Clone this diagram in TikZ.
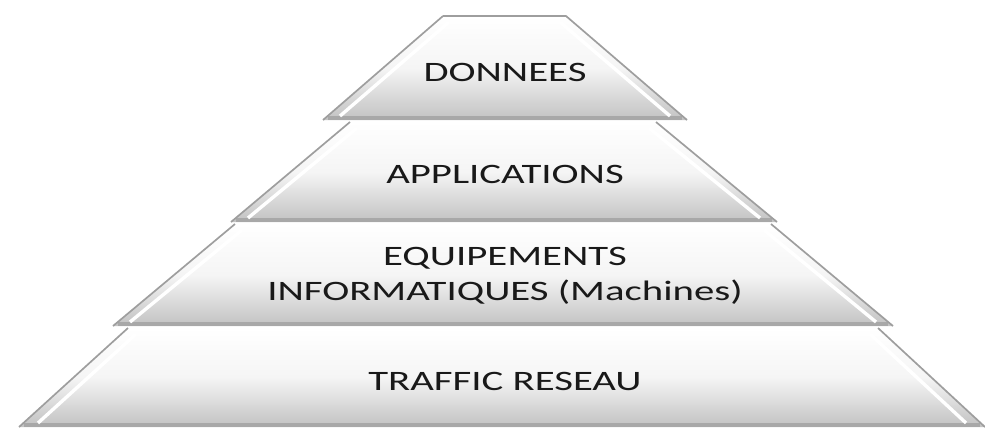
\documentclass[tikz,border=0pt]{standalone}
\usepackage{fontspec}
\setmainfont[FakeStretch=1.45]{Carlito}
\tikzset{
  level/.style={top color=white, bottom color=black!24, middle color=black!4},
  rim/.style={draw=black!38, line width=1.2pt},
  shine/.style={draw=white, line width=2.4pt},
  band/.style={draw=black!34, line width=3pt},
  lbl/.style={align=center, text=black!90, font=\fontsize{20}{25}\selectfont}
}
\begin{document}
\begin{tikzpicture}[x=0.025cm, y=-0.025cm]
            \useasboundingbox (0,0) rectangle (985,428);
            % base level
            \shade[level] (128,328) -- (878,328) -- (985,427) -- (19,427) -- cycle;
            \draw[band] (24,425) -- (980,425);
            \draw[rim] (128,328) -- (19,427) (878,328) -- (985,427);
            \draw[shine] (136,334) -- (38,423) (870,334) -- (966,423);
            % third level
            \shade[level] (235,224) -- (771,224) -- (893,326) -- (113,326) -- cycle;
            \draw[band] (118,324) -- (888,324);
            \draw[rim] (235,224) -- (113,326) (771,224) -- (893,326);
            \draw[shine] (242,230) -- (130,322) (764,230) -- (876,322);
            % second level
            \shade[level] (350,122) -- (656,122) -- (777,222) -- (231,222) -- cycle;
            \draw[band] (236,220) -- (772,220);
            \draw[rim] (350,122) -- (231,222) (656,122) -- (777,222);
            \draw[shine] (357,128) -- (248,218) (649,128) -- (760,218);
            % top level
            \shade[level] (443,16) -- (566,16) -- (687,120) -- (323,120) -- cycle;
            \draw[band] (328,118) -- (682,118);
            \draw[rim] (443,16) -- (566,16) -- (687,120) (323,120) -- (443,16);
            \draw[shine] (449,22) -- (340,116) (560,22) -- (670,116);
            % labels
            \node[lbl] (donnees) at (505,72) {DONNEES};
            \node[lbl] (applis) at (505,174) {APPLICATIONS};
            \node[lbl] (equip) at (505,276) {EQUIPEMENTS\\INFORMATIQUES (Machines)};
            \node[lbl] (reseau) at (505,381) {TRAFFIC RESEAU};
        \end{tikzpicture}
\end{document}
